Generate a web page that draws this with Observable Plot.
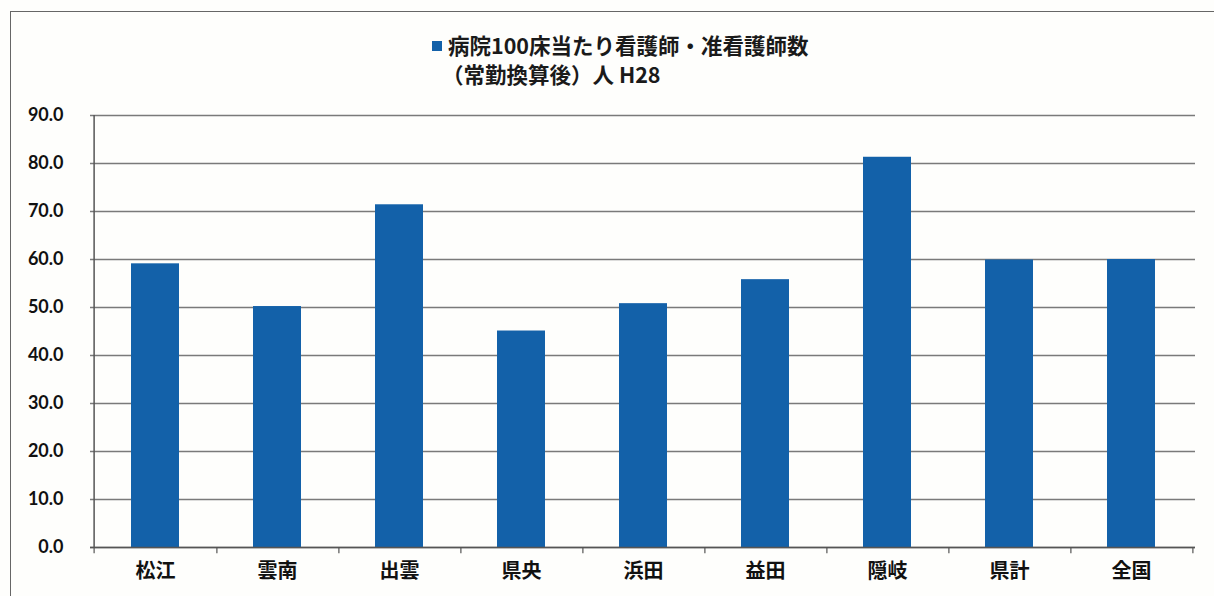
<!DOCTYPE html>
<html>
<head>
<meta charset="utf-8">
<script src="https://cdn.jsdelivr.net/npm/d3@7"></script>
<script src="https://cdn.jsdelivr.net/npm/@observablehq/plot@0.6"></script>
<style>
  html, body { margin: 0; padding: 0; background: #fefefc; }
  body { width: 1214px; height: 596px; overflow: hidden; position: relative;
         font-family: "Noto Sans CJK JP", "Noto Sans", sans-serif; }
  #frame { position: absolute; left: 10px; top: 11px; width: 1230px; height: 620px;
           border: 1.5px solid #666; box-sizing: border-box; pointer-events: none; }
  #title { height: 95px; position: relative; }
  #legend { position: absolute; left: 432px; top: 30px; font-weight: 700; font-size: 21.5px;
            line-height: 29px; color: #1a1a1a; white-space: nowrap; }
  #legend .sw { display: inline-block; width: 10px; height: 10px; background: #1361a9;
                margin-right: 6px; vertical-align: 3px; }
  #legend .l2 { padding-left: 10px; }
  #chart svg { display: block; }
</style>
</head>
<body>
<div id="frame"></div>
<div id="title">
  <div id="legend"><div><span class="sw"></span>病院100床当たり看護師・准看護師数</div><div class="l2">（常勤換算後）人 H28</div></div>
</div>
<div id="chart"></div>
<script>
const categories = ["松江", "雲南", "出雲", "県央", "浜田", "益田", "隠岐", "県計", "全国"];
const values = [59.1, 50.2, 71.4, 45.1, 50.8, 55.8, 81.3, 59.9, 60.0];
const yTicks = [0, 10, 20, 30, 40, 50, 60, 70, 80, 90];

const data = categories.map((c, i) => ({category: c, value: values[i]}));

const W = 1214, H = 501, ML = 90, MR = 19, MT = 20, MB = 49;
const step = (W - ML - MR) / categories.length;
const barColor = "#1361a9";

const chart = Plot.plot({
  width: W,
  height: H,
  marginLeft: ML,
  marginRight: MR,
  marginTop: MT,
  marginBottom: MB,
  style: {background: "transparent", fontFamily: "'Noto Sans CJK JP', 'Noto Sans', sans-serif", color: "#111"},
  x: {domain: categories, paddingInner: 0.61, paddingOuter: 0.305, label: null},
  y: {domain: [0, 90], label: null},
  marks: [
    Plot.gridY(yTicks, {stroke: "#7a7a7a", strokeOpacity: 1, strokeWidth: 1.5}),
    Plot.axisY(yTicks, {tickSize: 7, tickPadding: 20, tickFormat: d => d.toFixed(1),
      fontSize: 18, fontWeight: 700, fontFamily: "Lato, 'Open Sans', sans-serif",
      stroke: null, fill: "#111", label: null}),
    Plot.barY(data, {x: "category", y: "value", fill: barColor}),
    Plot.ruleY([0], {stroke: "#555", strokeWidth: 1.5}),
    Plot.ruleX([categories[0]], {dx: -step / 2, y1: 0, y2: 90, stroke: "#555", strokeWidth: 1.5}),
    Plot.ruleX(categories, {dx: step / 2, y1: 0, y2: -1.3, stroke: "#555", strokeWidth: 1.2}),
    Plot.ruleX([categories[0]], {dx: -step / 2, y1: 0, y2: -1.3, stroke: "#555", strokeWidth: 1.2}),
    Plot.axisX({tickSize: 0, tickPadding: 16, fontSize: 20, fontWeight: 700, fill: "#111", label: null})
  ]
});
document.getElementById("chart").appendChild(chart);
</script>
</body>
</html>
